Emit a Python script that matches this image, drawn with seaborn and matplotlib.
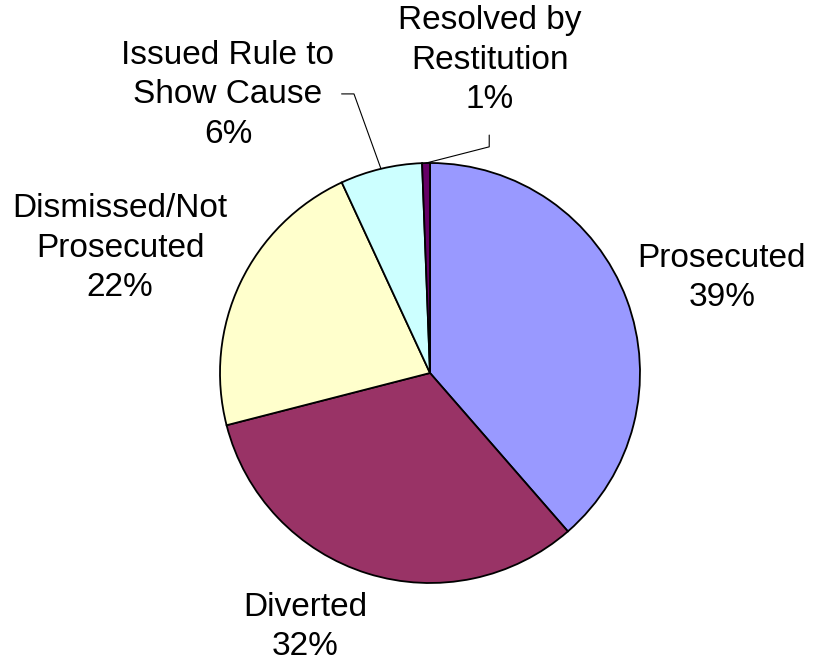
import matplotlib
matplotlib.use('Agg')
import matplotlib.pyplot as plt
import seaborn as sns
import numpy as np

# data
categories = ['Prosecuted', 'Diverted', 'Dismissed/Not\nProsecuted',
              'Issued Rule to\nShow Cause', 'Resolved by\nRestitution']
shares = [38.6, 32.4, 22.1, 6.3, 0.6]
colors = ['#9999FF', '#993366', '#FFFFCC', '#CCFFFF', '#660066']

# label layout (pie radius = 1)
label_pos = [(1.390, 0.452), (-0.595, -1.210), (-1.476, 0.595),
             (-0.962, 1.324), (0.286, 1.490)]
# elbow points of leader lines for the small slices
leaders = {3: [(-0.362, 1.329), (-0.421, 1.329)],
           4: [(0.282, 1.077), (0.282, 1.133)]}

sns.set_style('white')
plt.rcParams['font.family'] = ['Liberation Sans', 'DejaVu Sans']

fig = plt.figure(figsize=(8.13, 6.64), dpi=100)
ax = fig.add_axes([0, 0, 1, 1])
wedges, _ = ax.pie(shares, colors=sns.color_palette(colors), startangle=90,
                   counterclock=False,
                   wedgeprops=dict(edgecolor='black', linewidth=1.3))
ax.set_xlim(-430 / 210, 383 / 210)
ax.set_ylim(-291 / 210, 373 / 210)
ax.axis('off')

for i, (w, name, v) in enumerate(zip(wedges, categories, shares)):
    x, y = label_pos[i]
    ax.text(x, y, f"{name}\n{v:.0f}%", ha='center', va='center',
            fontsize=24, linespacing=1.35, color='black')
    if i in leaders:
        mid = np.deg2rad((w.theta1 + w.theta2) / 2)
        pts = [(np.cos(mid), np.sin(mid))] + leaders[i]
        xs, ys = zip(*pts)
        ax.plot(xs, ys, color='black', lw=0.8)

fig.savefig('out.png', dpi=100)
